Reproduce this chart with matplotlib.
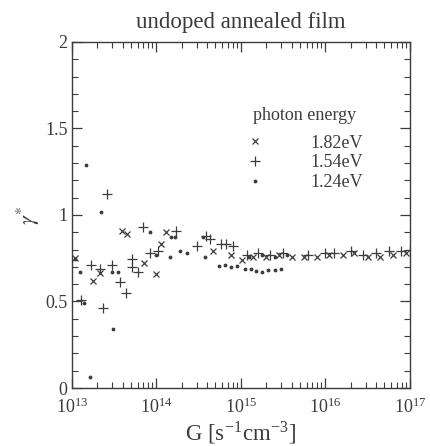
"""Plot gamma* vs generation rate, undoped annealed film"""

import numpy as np
import matplotlib
matplotlib.use("Agg")
import matplotlib.pyplot as plt
from matplotlib.ticker import LogLocator, MultipleLocator, LogFormatterMathtext

plt.rcParams['font.family'] = ['Liberation Serif', 'DejaVu Serif']
plt.rcParams['mathtext.fontset'] = 'stix'

INK = '#3c3c3c'

# 1.82 eV (x markers)
g_182 = [1.1e13, 1.78e13, 2.14e13, 3.89e13, 4.47e13, 7.24e13, 1.0e14, 1.15e14,
         1.32e14, 4.68e14, 7.6e14, 1.02e15, 1.41e15, 2.0e15, 2.8e15, 4.0e15,
         5.6e15, 7.9e15, 1.12e16, 1.6e16, 2.2e16, 3.2e16, 4.5e16, 6.3e16, 8.9e16]
gam_182 = [0.75, 0.62, 0.665, 0.91, 0.89, 0.725, 0.66, 0.83,
           0.90, 0.79, 0.77, 0.74, 0.76, 0.76, 0.77, 0.76,
           0.76, 0.76, 0.77, 0.77, 0.78, 0.76, 0.76, 0.77, 0.78]

# 1.54 eV (+ markers)
g_154 = [1.29e13, 1.7e13, 2.14e13, 2.34e13, 2.63e13, 3.02e13, 3.72e13, 4.37e13,
         5.13e13, 5.13e13, 6.03e13, 6.92e13, 8.5e13, 1.05e14, 1.7e14, 3.02e14,
         3.89e14, 4.27e14, 5.89e14, 6.76e14, 8.13e14, 1.17e15, 1.58e15, 2.24e15,
         3.16e15, 6.3e15, 1.0e16, 1.26e16, 2.0e16, 2.8e16, 4.0e16, 5.6e16,
         7.9e16, 1.0e17]
gam_154 = [0.51, 0.71, 0.69, 0.46, 1.12, 0.71, 0.61, 0.55,
           0.745, 0.70, 0.67, 0.93, 0.78, 0.79, 0.91, 0.82,
           0.88, 0.86, 0.83, 0.83, 0.82, 0.77, 0.78, 0.77,
           0.78, 0.77, 0.78, 0.78, 0.79, 0.77, 0.78, 0.79,
           0.79, 0.80]

# 1.24 eV (dots)
g_124 = [1.1e13, 1.26e13, 1.38e13, 1.48e13, 1.62e13, 2.19e13, 2.95e13, 3.09e13,
         3.55e13, 8.32e13, 1.0e14, 1.45e14, 1.48e14, 1.66e14, 1.9e14, 2.29e14,
         3.55e14, 3.72e14, 5.5e14, 6.46e14, 7.59e14, 8.91e14, 1.12e15, 1.32e15,
         1.51e15, 1.78e15, 2.09e15, 2.51e15, 3.02e15, 1.26e15, 1.78e15, 2.51e15,
         3.55e15]
gam_124 = [0.745, 0.67, 0.49, 1.29, 0.065, 1.015, 0.67, 0.34,
           0.67, 0.90, 0.77, 0.76, 0.875, 0.87, 0.79, 0.78,
           0.87, 0.76, 0.705, 0.71, 0.70, 0.705, 0.69, 0.685,
           0.675, 0.67, 0.68, 0.68, 0.69, 0.76, 0.77, 0.76,
           0.77]

labels = ['1.82eV', '1.54eV', '1.24eV']


def main():
    fig = plt.figure(figsize=(4.30, 4.46), dpi=100)
    ax = fig.add_axes([0.167, 0.130, 0.786, 0.776])

    ax.plot(g_182, gam_182, 'x', ms=4, mew=0.9, color=INK, label=labels[0])
    ax.plot(g_154, gam_154, '+', ms=7, mew=0.9, color=INK, label=labels[1])
    ax.plot(g_124, gam_124, '.', ms=3.5, color=INK, label=labels[2])

    ax.set_xscale('log')
    ax.set_xlim(1e13, 1e17)
    ax.set_ylim(0, 2)
    ax.xaxis.set_major_locator(LogLocator(base=10, numticks=10))
    ax.xaxis.set_minor_locator(LogLocator(base=10, subs=np.arange(2, 10), numticks=20))
    ax.xaxis.set_major_formatter(LogFormatterMathtext())
    ax.yaxis.set_minor_locator(MultipleLocator(0.1))
    ax.set_yticks([0, 0.5, 1, 1.5, 2])
    ax.set_yticklabels(['0', '0.5', '1', '1.5', '2'])

    ax.tick_params(which='both', direction='in', top=True, right=True,
                   colors=INK, labelcolor=INK, labelsize=13)
    ax.tick_params(which='major', length=7, width=0.9)
    ax.tick_params(which='minor', length=4, width=0.8)
    ax.tick_params(axis='x', which='major', pad=7)
    ax.tick_params(axis='y', which='major', pad=3)
    for sp in ax.spines.values():
        sp.set_color(INK)
        sp.set_linewidth(1.0)

    ax.set_xlabel(r'G [s$^{\mathdefault{-1}}$cm$^{\mathdefault{-3}}$]', fontsize=16.5,
                  color=INK, labelpad=2)
    ax.set_ylabel(r'$\gamma^{*}$', fontsize=16, color=INK, labelpad=2)
    ax.set_title('undoped annealed film', fontsize=16.5, color=INK, pad=10)

    leg = ax.legend(title='photon energy', loc='upper right',
                    bbox_to_anchor=(0.91, 0.86), frameon=False, fontsize=13,
                    title_fontsize=13, handletextpad=2.6, labelspacing=0.15,
                    handlelength=1.0, markerscale=1.0, labelcolor=INK)
    leg.get_title().set_color(INK)
    leg._legend_box.sep = 8

    fig.savefig('out.png', dpi=100)


if __name__ == '__main__':
    main()
